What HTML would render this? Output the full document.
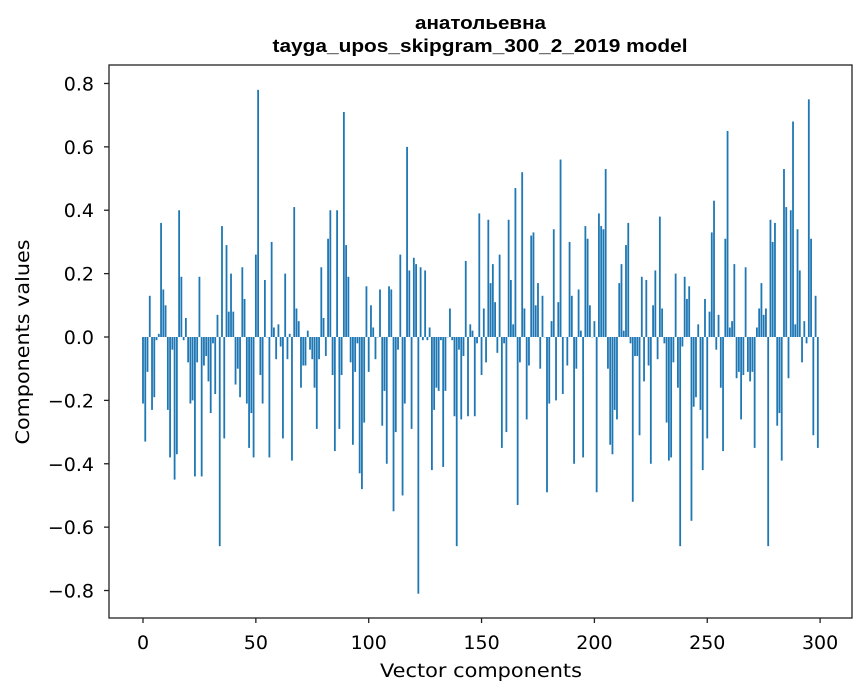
<!DOCTYPE html>
<html><head><meta charset="utf-8">
<style>
html,body{margin:0;padding:0;background:#fff;}
svg{display:block;font-family:"DejaVu Sans","Liberation Sans",sans-serif;}
</style></head>
<body>
<svg id="s" width="867" height="696" xmlns="http://www.w3.org/2000/svg">
<rect width="867" height="696" fill="#fff"/>
<g id="bars" fill="#1f77b4"></g>
<rect x="109" y="65" width="743" height="553" fill="none" stroke="#222" stroke-width="1.3"/>
<g id="ticks" stroke="#222" stroke-width="1.3"></g>
<g id="labels" font-size="19" fill="#000"></g>
<text x="480.5" y="29" text-anchor="middle" font-size="18" font-weight="bold" font-family="Liberation Sans, sans-serif" textLength="131" lengthAdjust="spacingAndGlyphs">анатольевна</text>
<text x="480" y="52" text-anchor="middle" font-size="18" font-weight="bold" font-family="Liberation Sans, sans-serif" textLength="415" lengthAdjust="spacingAndGlyphs">tayga_upos_skipgram_300_2_2019 model</text>
<text x="481" y="677" text-anchor="middle" font-size="19" textLength="202" lengthAdjust="spacingAndGlyphs">Vector components</text>
<text transform="translate(29,342) rotate(-90)" text-anchor="middle" font-size="19" textLength="205" lengthAdjust="spacingAndGlyphs">Components values</text>
</svg>
<script>
var Z=[
[-15,[[15,-0.21],[22,-0.33],[28,-0.11],[35,0.13],[42,-0.23],[49,-0.19],[56,-0.01],[62,0.01],[69,0.36],[76,0.15],[83,0.10],[90,-0.23],[96,-0.38],[103,-0.04],[110,-0.45],[117,-0.37],[123,0.40],[130,0.19],[137,-0.01],[144,0.06],[150,-0.08],[157,-0.21],[164,-0.20],[171,-0.44],[177,-0.08],[184,0.19],[191,-0.44],[198,-0.09],[204,-0.06],[211,-0.14],[218,-0.24],[225,-0.02],[232,-0.18],[238,0.07],[245,-0.66],[252,0.35],[259,-0.32],[265,0.29],[272,0.08],[279,0.20],[286,0.08],[292,-0.15],[299,-0.10],[306,-0.19],[313,0.22],[320,0.12],[326,-0.21],[333,-0.35],[340,-0.24],[347,-0.38],[353,0.26],[360,0.78],[367,-0.12],[374,-0.21],[380,0.18],[395,-0.38],[400,0.30],[405,0.03],[415,-0.07]]],
[396,[[5,-0.07],[12,0.04],[18,-0.03],[23,-0.32],[31,0.20],[39,-0.07],[45,0.01],[51,-0.39],[58,0.41],[65,0.09],[71,0.05],[78,-0.16],[85,-0.09],[92,-0.09],[98,0.02],[105,-0.04],[112,-0.07],[119,-0.16],[126,-0.29],[132,-0.07],[140,0.22],[146,0.06],[153,-0.06],[158,0.31],[167,0.40],[173,-0.12],[180,-0.36],[187,0.40],[194,-0.29],[200,-0.12],[207,0.71],[213,0.29],[222,0.19],[228,-0.08],[234,-0.34],[241,-0.11],[248,-0.02],[255,-0.43],[261,-0.48],[268,-0.27],[276,0.16],[282,-0.11],[288,0.10],[295,0.03],[302,-0.07],[308,0.0],[315,0.15],[322,-0.28],[328,-0.17],[335,-0.40],[341,0.16],[348,0.15],[356,-0.55],[362,-0.30],[368,-0.04],[376,0.26],[383,-0.50],[389,-0.21],[395,0.60],[404,0.21],[410,-0.29],[417,0.25]]],
[807,[[3,-0.29],[6,0.25],[12,0.23],[20,-0.81],[27,0.22],[33,-0.01],[39,0.21],[47,-0.01],[54,0.03],[60,-0.42],[67,-0.23],[74,-0.16],[81,-0.17],[87,-0.01],[94,-0.41],[101,-0.17],[108,0],[114,0.09],[121,-0.01],[129,-0.25],[135,-0.66],[141,-0.04],[148,-0.26],[156,-0.06],[162,0.24],[168,-0.25],[175,0.04],[182,0.02],[189,-0.25],[195,-0.02],[202,0.39],[210,-0.12],[216,0.09],[222,-0.08],[229,0.37],[236,0.17],[242,0.23],[248,0.11],[256,-0.05],[263,0.26],[270,-0.35],[276,-0.02],[285,-0.30],[291,0.37],[297,0.18],[303,0.04],[311,0.47],[318,-0.53],[324,-0.08],[331,0.52],[339,0.09],[345,-0.26],[351,-0.09],[358,0.32],[366,0.33],[372,0.10],[378,0.17],[385,-0.10],[393,0.13],[399,0],[405,-0.49],[412,-0.21],[419,0.05]]],
[1218,[[3,-0.21],[9,0.05],[15,0.34],[21,-0.20],[28,0.11],[36,0.56],[42,-0.18],[49,0.0],[55,-0.09],[63,0.30],[69,0.13],[75,-0.40],[82,-0.10],[90,0.15],[96,0.02],[102,-0.38],[109,0.35],[117,0.31],[123,0.10],[129,0],[136,0.05],[144,-0.49],[150,0.39],[156,0.35],[165,0.34],[171,0.53],[177,-0.10],[183,-0.34],[192,-0.37],[198,-0.23],[204,-0.26],[211,0.17],[219,0.23],[225,0.02],[231,0.29],[238,0.36],[245,-0.02],[252,-0.52],[258,-0.06],[265,-0.06],[273,-0.31],[279,0.19],[285,-0.14],[292,0.18],[300,-0.09],[306,-0.40],[312,0.10],[319,0.21],[327,-0.07],[333,0.38],[339,0.09],[346,-0.02],[353,-0.27],[360,-0.39],[366,-0.38],[373,-0.08],[381,0.20],[387,-0.16],[393,-0.66],[400,-0.03],[407,0.19],[413,0.12],[419,0.16]]],
[1629,[[3,0.11],[9,0.16],[17,-0.58],[23,-0.22],[30,-0.19],[36,0.04],[45,-0.23],[50,-0.42],[57,0.12],[63,-0.32],[72,0.08],[78,0.33],[84,0.43],[91,-0.04],[99,0.07],[105,-0.16],[111,-0.36],[118,0.31],[126,0.65],[132,0.03],[138,0.05],[145,0.23],[153,-0.13],[159,-0.11],[165,-0.26],[172,-0.12],[180,0.22],[186,-0.11],[192,-0.14],[199,-0.11],[207,-0.35],[213,0.03],[219,0.09],[226,0.17],[233,0.07],[240,0.09],[246,-0.66],[253,0.37],[261,0.30],[267,0.36],[273,-0.28],[280,-0.24],[288,-0.39],[294,0.53],[300,0.41],[309,-0.13],[315,0.40],[321,0.68],[327,0.04],[336,0.34],[342,0.21],[348,-0.08],[355,0.05],[363,-0.02],[369,0.75],[375,0.31],[382,-0.31],[390,0.13],[396,-0.35]]]
];
var v=new Array(300).fill(0), set=new Array(300).fill(false);
Z.forEach(function(z){z[1].forEach(function(p){var i=Math.round((p[0]+z[0])/6.77);if(i>=0&&i<300&&!set[i]){v[i]=p[1];set[i]=true;}});});
var NS="http://www.w3.org/2000/svg";
function X(i){return 143+2.257*i;}
function Y(val){return 337-val*316.9;}
var g=document.getElementById('bars');
for(var i=0;i<300;i++){var r=document.createElementNS(NS,'rect');var y0=Y(0),y1=Y(v[i]);
r.setAttribute('x',(X(i)-0.9).toFixed(2));r.setAttribute('width','1.8');
r.setAttribute('y',Math.min(y0,y1).toFixed(2));r.setAttribute('height',Math.max(Math.abs(y1-y0),0.3).toFixed(2));g.appendChild(r);}
var t=document.getElementById('ticks'),L=document.getElementById('labels');
function line(x1,y1,x2,y2){var l=document.createElementNS(NS,'line');l.setAttribute('x1',x1);l.setAttribute('y1',y1);l.setAttribute('x2',x2);l.setAttribute('y2',y2);t.appendChild(l);}
function txt(x,y,s,a){var e=document.createElementNS(NS,'text');e.setAttribute('x',x);e.setAttribute('y',y);e.setAttribute('text-anchor',a);e.textContent=s;L.appendChild(e);}
for(var k=0;k<=6;k++){var x=X(50*k);line(x,618,x,623);txt(x,649,String(50*k),'middle');}
for(var k=-4;k<=4;k++){var val=k*0.2,y=Y(val);line(104,y,109,y);var s=Math.abs(val).toFixed(1);if(k<0)s='\u2212'+s;txt(94,y+7,s,'end');}
</script>
</body></html>
